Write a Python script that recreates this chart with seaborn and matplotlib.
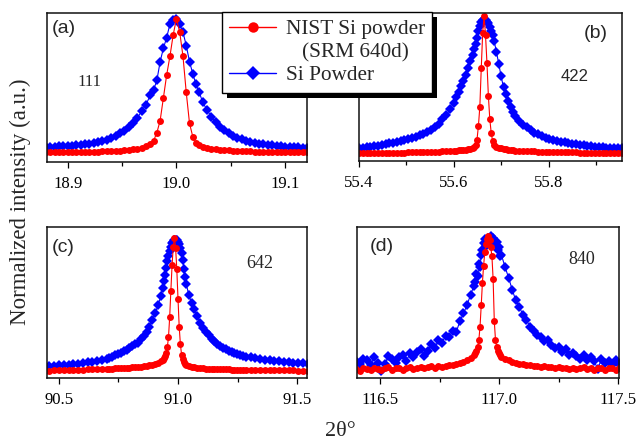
import matplotlib
matplotlib.use("Agg")
import matplotlib.pyplot as plt
import seaborn as sns
from matplotlib.lines import Line2D
from matplotlib.patches import Rectangle
from matplotlib.ticker import MultipleLocator

# ---------------- data ----------------
# Panel (a) 111 reflection
x_a = [18.880, 18.884, 18.888, 18.892, 18.896, 18.900, 18.904, 18.908, 18.912, 18.916,
       18.920, 18.924, 18.928, 18.932, 18.936, 18.940, 18.944, 18.948, 18.952, 18.956,
       18.960, 18.964, 18.968, 18.972, 18.976,
       18.979, 18.982, 18.985, 18.988, 18.991, 18.994, 18.997, 19.000, 19.003, 19.006,
       19.009, 19.012, 19.015, 19.018, 19.021,
       19.024, 19.028, 19.032, 19.036, 19.040, 19.044, 19.048, 19.052, 19.056, 19.060,
       19.064, 19.068, 19.072, 19.076, 19.080, 19.084, 19.088, 19.092, 19.096, 19.100,
       19.104, 19.108, 19.112, 19.116, 19.120]
nist_a = [0.002, 0.002, 0.003, 0.003, 0.004, 0.004, 0.005, 0.005, 0.006, 0.006,
          0.007, 0.008, 0.009, 0.010, 0.011, 0.012, 0.014, 0.016, 0.019, 0.022,
          0.026, 0.031, 0.038, 0.048, 0.065,
          0.09, 0.15, 0.24, 0.41, 0.58, 0.72, 0.88, 1.00, 0.90, 0.72,
          0.45, 0.22, 0.12, 0.075, 0.055,
          0.045, 0.036, 0.030, 0.026, 0.022, 0.019, 0.017, 0.015, 0.013, 0.012,
          0.011, 0.010, 0.009, 0.008, 0.007, 0.007, 0.006, 0.006, 0.005, 0.005,
          0.004, 0.004, 0.004, 0.003, 0.003]
si_a = [0.044, 0.045, 0.046, 0.047, 0.049, 0.051, 0.054, 0.057, 0.060, 0.064,
        0.069, 0.075, 0.081, 0.089, 0.098, 0.110, 0.125, 0.145, 0.165, 0.190,
        0.220, 0.260, 0.310, 0.360, 0.430,
        0.47, 0.54, 0.68, 0.78, 0.86, 0.96, 0.99, 1.00, 0.96, 0.90,
        0.80, 0.68, 0.59, 0.51, 0.45,
        0.380, 0.320, 0.270, 0.230, 0.195, 0.170, 0.145, 0.128, 0.113, 0.100,
        0.090, 0.082, 0.075, 0.069, 0.064, 0.059, 0.055, 0.052, 0.049, 0.046,
        0.044, 0.042, 0.040, 0.038, 0.037]

# Panel (b) 422 reflection
x_b = [55.400, 55.408, 55.416, 55.424, 55.432, 55.440, 55.448, 55.456, 55.464, 55.472,
       55.480, 55.488, 55.496, 55.504, 55.512, 55.520, 55.528, 55.536, 55.544, 55.552,
       55.560, 55.568, 55.576, 55.584, 55.592, 55.600,
       55.605, 55.610, 55.615, 55.620, 55.625, 55.630, 55.635, 55.640,
       55.643, 55.646, 55.649, 55.652, 55.655, 55.658, 55.661, 55.664, 55.667, 55.670,
       55.673, 55.676, 55.679, 55.682, 55.685,
       55.690, 55.695, 55.700, 55.705, 55.710, 55.715, 55.720, 55.725, 55.730,
       55.738, 55.746, 55.754, 55.762, 55.770, 55.778, 55.786, 55.794, 55.802, 55.810,
       55.818, 55.826, 55.834, 55.842, 55.850, 55.858, 55.866, 55.874, 55.882, 55.890,
       55.898, 55.906, 55.914, 55.922, 55.930, 55.938, 55.946, 55.954]
nist_b = [0.000, 0.001, 0.001, 0.002, 0.002, 0.003, 0.003, 0.004, 0.004, 0.005,
          0.005, 0.006, 0.006, 0.007, 0.008, 0.008, 0.009, 0.010, 0.011, 0.012,
          0.013, 0.014, 0.015, 0.016, 0.018, 0.019,
          0.021, 0.022, 0.024, 0.026, 0.028, 0.031, 0.034, 0.038,
          0.045, 0.06, 0.10, 0.20, 0.34, 0.62, 0.88, 1.00, 0.86, 0.66,
          0.42, 0.25, 0.15, 0.09, 0.065,
          0.050, 0.042, 0.036, 0.032, 0.029, 0.026, 0.024, 0.022, 0.021,
          0.019, 0.018, 0.017, 0.016, 0.015, 0.014, 0.013, 0.012, 0.011, 0.010,
          0.010, 0.009, 0.008, 0.008, 0.007, 0.007, 0.006, 0.006, 0.005, 0.005,
          0.004, 0.004, 0.004, 0.003, 0.003, 0.003, 0.002, 0.002]
si_b = [0.038, 0.041, 0.044, 0.047, 0.051, 0.055, 0.060, 0.066, 0.073, 0.079,
        0.085, 0.091, 0.098, 0.105, 0.113, 0.122, 0.132, 0.145, 0.158, 0.172,
        0.190, 0.215, 0.250, 0.280, 0.320, 0.370,
        0.41, 0.45, 0.49, 0.53, 0.57, 0.62, 0.67, 0.72,
        0.76, 0.80, 0.84, 0.89, 0.93, 0.96, 0.97, 0.97, 0.97, 0.96,
        0.95, 0.92, 0.89, 0.86, 0.82,
        0.74, 0.65, 0.56, 0.48, 0.43, 0.38, 0.34, 0.30, 0.27,
        0.235, 0.210, 0.190, 0.170, 0.152, 0.138, 0.126, 0.116, 0.107, 0.099,
        0.092, 0.086, 0.080, 0.075, 0.070, 0.066, 0.062, 0.058, 0.055, 0.052,
        0.049, 0.047, 0.045, 0.043, 0.041, 0.040, 0.038, 0.037]

# Panel (c) 642 reflection
x_c = [90.440, 90.460, 90.480, 90.500, 90.520, 90.540, 90.560, 90.580, 90.600, 90.620,
       90.640, 90.660, 90.680,
       90.700, 90.712, 90.724, 90.736, 90.748, 90.760, 90.772, 90.784, 90.796, 90.808,
       90.820, 90.832, 90.844, 90.856, 90.868, 90.880, 90.892, 90.904, 90.916, 90.928,
       90.935, 90.940, 90.945, 90.950, 90.955, 90.960, 90.965, 90.970, 90.975, 90.980,
       90.985, 90.990, 90.995, 91.000, 91.005, 91.010, 91.015, 91.020, 91.025, 91.030,
       91.035,
       91.045, 91.057, 91.069, 91.081, 91.093, 91.105, 91.117, 91.129, 91.141, 91.153,
       91.165, 91.177, 91.189, 91.201, 91.213, 91.225, 91.237, 91.249, 91.261, 91.273,
       91.285,
       91.305, 91.325, 91.345, 91.365, 91.385, 91.405, 91.425, 91.445, 91.465, 91.485,
       91.505, 91.525, 91.545]
nist_c = [0.000, 0.001, 0.002, 0.003, 0.004, 0.005, 0.006, 0.007, 0.008, 0.009,
          0.010, 0.011, 0.013,
          0.014, 0.015, 0.016, 0.017, 0.018, 0.019, 0.020, 0.022, 0.023, 0.025,
          0.027, 0.029, 0.031, 0.034, 0.037, 0.041, 0.046, 0.052, 0.060, 0.070,
          0.080, 0.092, 0.110, 0.135, 0.175, 0.25, 0.40, 0.60, 0.79, 0.93,
          1.00, 0.92, 0.76, 0.54, 0.33, 0.20, 0.12, 0.085, 0.065, 0.052,
          0.044,
          0.034, 0.029, 0.025, 0.022, 0.020, 0.018, 0.016, 0.015, 0.014, 0.013,
          0.012, 0.011, 0.010, 0.009, 0.009, 0.008, 0.007, 0.007, 0.006, 0.006,
          0.005,
          0.005, 0.005, 0.004, 0.004, 0.003, 0.003, 0.003, 0.002, 0.002, 0.002,
          0.001, 0.001, 0.001]
si_c = [0.032, 0.034, 0.036, 0.039, 0.042, 0.045, 0.049, 0.053, 0.057, 0.062,
        0.067, 0.073, 0.079,
        0.090, 0.096, 0.105, 0.115, 0.125, 0.135, 0.145, 0.157, 0.170, 0.183,
        0.197, 0.210, 0.235, 0.260, 0.290, 0.330, 0.380, 0.430, 0.490, 0.560,
        0.62, 0.67, 0.72, 0.77, 0.82, 0.86, 0.90, 0.93, 0.96, 0.97,
        0.98, 0.98, 0.98, 0.97, 0.95, 0.92, 0.88, 0.83, 0.76, 0.70,
        0.65,
        0.570, 0.510, 0.460, 0.410, 0.360, 0.320, 0.290, 0.265, 0.240, 0.220,
        0.200, 0.185, 0.170, 0.160, 0.150, 0.140, 0.130, 0.123, 0.117, 0.111,
        0.106,
        0.099, 0.093, 0.088, 0.083, 0.079, 0.075, 0.071, 0.067, 0.064, 0.060,
        0.057, 0.054, 0.051]

# Panel (d) 840 reflection
x_d = [116.400, 116.415, 116.430, 116.445, 116.460, 116.475, 116.490, 116.505, 116.520, 116.535,
       116.550, 116.565, 116.580, 116.595, 116.610, 116.625, 116.640, 116.655, 116.670, 116.685,
       116.700, 116.715, 116.730, 116.745, 116.760, 116.775, 116.790, 116.805, 116.820, 116.835,
       116.850, 116.865, 116.880, 116.895,
       116.900, 116.905, 116.910, 116.915, 116.920, 116.925, 116.930, 116.935, 116.940, 116.945,
       116.950, 116.955, 116.960, 116.965, 116.970, 116.975, 116.980, 116.985, 116.990, 116.995,
       117.000, 117.005, 117.010,
       117.025, 117.040, 117.055, 117.070, 117.085, 117.100, 117.115, 117.130, 117.145, 117.160,
       117.175, 117.190, 117.205, 117.220, 117.235, 117.250, 117.265, 117.280, 117.295, 117.310,
       117.325, 117.340, 117.355, 117.370, 117.385, 117.400, 117.415, 117.430, 117.445, 117.460,
       117.475, 117.490, 117.505]
nist_d = [0.005, -0.012, 0.010, 0.000, -0.008, 0.012, 0.003, -0.006, 0.008, 0.014,
          -0.004, 0.006, 0.011, -0.002, 0.009, 0.015, 0.004, 0.012, 0.020, 0.008,
          0.016, 0.022, 0.013, 0.024, 0.019, 0.028, 0.032, 0.030, 0.042, 0.046,
          0.055, 0.066, 0.082, 0.105,
          0.12, 0.14, 0.17, 0.22, 0.32, 0.48, 0.65, 0.78, 0.88, 0.94,
          0.98, 1.00, 0.97, 0.92, 0.85, 0.68, 0.36, 0.22, 0.17, 0.14,
          0.12, 0.105, 0.095,
          0.078, 0.066, 0.055, 0.048, 0.040, 0.036, 0.030, 0.033, 0.024, 0.028,
          0.018, 0.022, 0.014, 0.019, 0.010, 0.016, 0.006, 0.013, 0.004, 0.011,
          0.000, 0.009, 0.015, 0.002, 0.010, -0.005, 0.008, 0.012, -0.003, 0.006,
          0.011, -0.002, 0.007]
si_d = [0.06, 0.04, 0.08, 0.07, 0.03, 0.09, 0.05, -0.01, 0.04, 0.10,
        0.08, 0.05, 0.09, 0.11, 0.06, 0.12, 0.09, 0.13, 0.15, 0.10,
        0.14, 0.19, 0.16, 0.22, 0.20, 0.25, 0.24, 0.29, 0.28, 0.36,
        0.42, 0.48, 0.56, 0.63,
        0.66, 0.72, 0.70, 0.79, 0.77, 0.86, 0.90, 0.95, 0.98, 0.93,
        0.97, 0.99, 0.95, 1.00, 0.96, 0.99, 0.97, 0.94, 0.96, 0.90,
        0.92, 0.85, 0.86,
        0.77, 0.69, 0.60, 0.52, 0.47, 0.41, 0.37, 0.32, 0.29, 0.26,
        0.24, 0.21, 0.22, 0.18, 0.16, 0.17, 0.13, 0.15, 0.11, 0.12,
        0.10, 0.08, 0.11, 0.07, 0.09, 0.06, 0.00, 0.08, 0.05, 0.06,
        0.03, 0.07, 0.04]

panel_tags = ["(a)", "(b)", "(c)", "(d)"]
hkl_labels = ["111", "422", "642", "840"]
ticks_a = [18.9, 19.0, 19.1]
ticks_b = [55.4, 55.6, 55.8]
ticks_c = [90.5, 91.0, 91.5]
ticks_d = [116.5, 117.0, 117.5]
tick_labels_a = ["18.9", "19.0", "19.1"]
tick_labels_b = ["55.4", "55.6", "55.8"]
tick_labels_c = ["90.5", "91.0", "91.5"]
tick_labels_d = ["116.5", "117.0", "117.5"]
series_names = ["NIST Si powder", "(SRM 640d)", "Si Powder"]
x_title = "2θ°"
y_title = "Normalized intensity (a.u.)"

# ---------------- style ----------------
sns.set_style("ticks")
plt.rcParams["font.family"] = ["Liberation Serif", "DejaVu Serif"]
SERIF = ["Liberation Serif", "DejaVu Serif"]
SANS = ["Liberation Sans", "DejaVu Sans"]
RED = "#ff0000"
BLUE = "#0000ff"

W, H = 639, 440
fig = plt.figure(figsize=(W / 100, H / 100), dpi=100)


def rect(x0, y0, x1, y1):
    return [x0 / W, 1 - y1 / H, (x1 - x0) / W, (y1 - y0) / H]


panels = [
    dict(r=rect(47, 13, 307, 162), x=x_a, red=nist_a, blue=si_a, xlim=(18.881, 19.120),
         ylim=(-0.069, 1.043), ticks=ticks_a, tl=tick_labels_a, minor=0.05,
         tag_xy=(0.02, 0.955), tag_ha="left", hkl_xy=(0.165, 0.537), hkl_font=SERIF, hkl_size=12),
    dict(r=rect(359, 13, 622, 161), x=x_b, red=nist_b, blue=si_b, xlim=(55.400, 55.955),
         ylim=(-0.055, 1.022), ticks=ticks_b, tl=tick_labels_b, minor=0.1,
         tag_xy=(0.945, 0.92), tag_ha="right", hkl_xy=(0.821, 0.568), hkl_font=SANS, hkl_size=12),
    dict(r=rect(47, 227, 307, 378), x=x_c, red=nist_c, blue=si_c, xlim=(90.4496, 91.542),
         ylim=(-0.055, 1.079), ticks=ticks_c, tl=tick_labels_c, minor=0.25,
         tag_xy=(0.02, 0.92), tag_ha="left", hkl_xy=(0.819, 0.755), hkl_font=SERIF, hkl_size=13),
    dict(r=rect(357, 227, 619, 378), x=x_d, red=nist_d, blue=si_d, xlim=(116.403, 117.504),
         ylim=(-0.066, 1.071), ticks=ticks_d, tl=tick_labels_d, minor=0.25,
         tag_xy=(0.05, 0.925), tag_ha="left", hkl_xy=(0.859, 0.788), hkl_font=SERIF, hkl_size=13),
]

for i, p in enumerate(panels):
    ax = fig.add_axes(p["r"])
    sns.lineplot(x=p["x"], y=p["blue"], ax=ax, color=BLUE, marker="D", markersize=5.0,
                 markeredgewidth=0, linewidth=0.8, sort=False, estimator=None)
    sns.lineplot(x=p["x"], y=p["red"], ax=ax, color=RED, marker="o", markersize=5.0,
                 markeredgewidth=0, linewidth=0.8, sort=False, estimator=None)
    ax.set_xlim(*p["xlim"])
    ax.set_ylim(*p["ylim"])
    ax.set_xticks(p["ticks"])
    ax.set_xticklabels(p["tl"], fontfamily=SERIF, fontsize=12)
    ax.xaxis.set_minor_locator(MultipleLocator(p["minor"]))
    ax.set_yticks([])
    ax.set_xlabel("")
    ax.set_ylabel("")
    ax.tick_params(axis="x", which="major", direction="out", length=4.3, width=0.9,
                   pad=5.5, colors="black")
    ax.tick_params(axis="x", which="minor", direction="out", length=2.6, width=0.9,
                   colors="black")
    ax.tick_params(axis="x", which="both", top=False)
    for s in ax.spines.values():
        s.set_visible(True)
        s.set_color("#111111")
        s.set_linewidth(1.1)
    ax.text(*p["tag_xy"], panel_tags[i], transform=ax.transAxes, ha=p["tag_ha"], va="top",
            fontfamily=SANS, fontsize=14)
    ax.text(*p["hkl_xy"], hkl_labels[i], transform=ax.transAxes, ha="center", va="center",
            fontfamily=p["hkl_font"], fontsize=p["hkl_size"])

fig.text(20 / W, 1 - 202 / H, y_title, rotation=90, ha="center", va="center",
         fontfamily=SERIF, fontsize=16.5)
fig.text(340 / W, 1 - 431 / H, x_title, ha="center", va="center",
         fontfamily=SERIF, fontsize=16)

handles = [
    Line2D([], [], color=RED, marker="o", markersize=7.5, markeredgewidth=0, linewidth=1.0),
    Line2D([], [], linestyle="none", marker=None),
    Line2D([], [], color=BLUE, marker="D", markersize=7.5, markeredgewidth=0, linewidth=1.0),
]
labels = [series_names[0], "   " + series_names[1], series_names[2]]
leg = fig.legend(handles, labels, loc="upper left", bbox_to_anchor=(222 / W, 1 - 12 / H),
                 frameon=True, fancybox=False, shadow=False, edgecolor="black",
                 framealpha=1.0, prop=dict(family=SERIF, size=15.3), handlelength=2.2,
                 handletextpad=0.45, borderpad=0.35, labelspacing=0.15, borderaxespad=0.0)
leg.get_frame().set_linewidth(1.0)
leg.set_zorder(10)

fig.canvas.draw()
bb = leg.get_window_extent(fig.canvas.get_renderer())
off = 5
shadow = Rectangle(((bb.x0 + off) / W, (bb.y0 - off) / H), bb.width / W, bb.height / H,
                   transform=fig.transFigure, facecolor="black", edgecolor="none", zorder=9)
fig.add_artist(shadow)

fig.savefig("out.png", dpi=100)
